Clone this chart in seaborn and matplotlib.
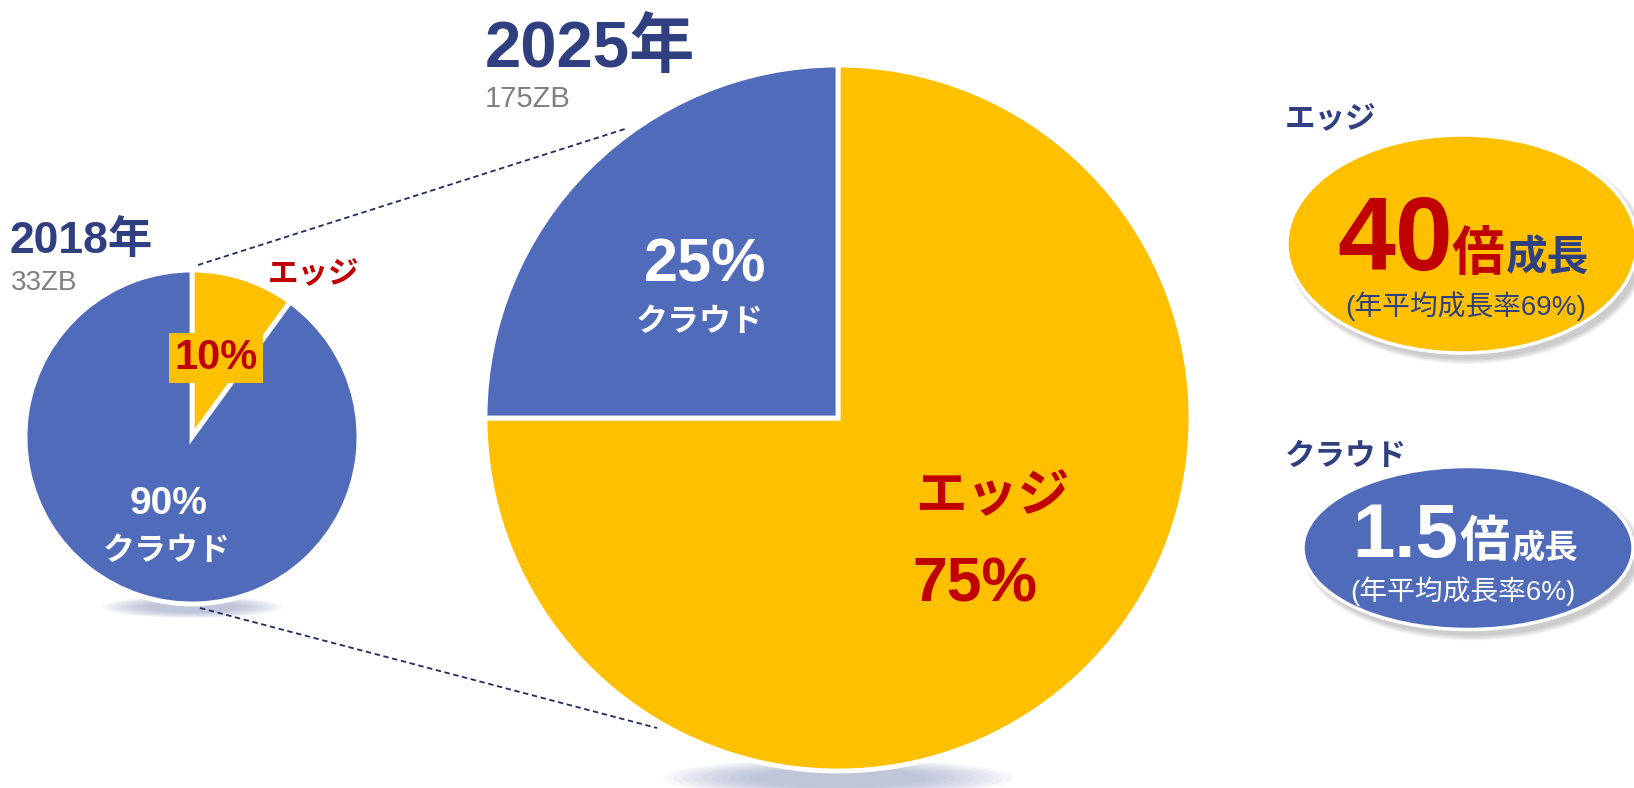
import matplotlib
matplotlib.use("Agg")
import matplotlib.pyplot as plt
import seaborn as sns
from matplotlib.patches import Ellipse

# data
years = ["2018年", "2025年"]
totals = ["33ZB", "175ZB"]
segments = ["エッジ", "クラウド"]
edge_share = [10, 75]
cloud_share = [90, 25]
growth_x = ["40", "1.5"]
growth_cagr = ["(年平均成長率69%)", "(年平均成長率6%)"]

sns.set_theme(style="white")
plt.rcParams["font.family"] = ["Liberation Sans", "Noto Sans CJK JP"]

yellow = "#FFC000"
blue = "#4F6BBA"
red = "#C00000"
navy = "#2F3F7F"
gray = "#7F7F7F"

W, H = 1634, 788
fig = plt.figure(figsize=(W / 100, H / 100), dpi=100)
ax = fig.add_axes([0, 0, 1, 1])


def Y(y):
    # measured from the top of the picture
    return H - y


def soft_shadow(cx, cy, w, h, color, n=10, alpha=0.07, z=0):
    for i in range(n):
        s = 1 - 0.55 * i / n
        ax.add_patch(Ellipse((cx, cy), w * s, h * s, color=color,
                             alpha=alpha, lw=0, zorder=z))


# shadows under the pies
soft_shadow(192, Y(607), 180, 22, "#8C95BF")
soft_shadow(838, Y(778), 350, 38, "#8C95BF")

# connector lines
ax.plot([198, 628], [Y(265), Y(128)], ls=(0, (3, 2)), lw=1.3,
        color="#1F2D5A", zorder=1)
ax.plot([200, 657], [Y(608), Y(728)], ls=(0, (3, 2)), lw=1.3,
        color="#1F2D5A", zorder=1)

# pies
wp = dict(edgecolor="white", linewidth=3.5, zorder=2)
ax.pie([edge_share[0], cloud_share[0]], colors=[yellow, blue], startangle=90,
       counterclock=False, center=(192, Y(437)), radius=167, wedgeprops=wp)
ax.pie([edge_share[1], cloud_share[1]], colors=[yellow, blue], startangle=90,
       counterclock=False, center=(838, Y(418)), radius=353, wedgeprops=wp)

ax.set_xlim(0, W)
ax.set_ylim(0, H)
ax.set_aspect("equal")
ax.axis("off")

# titles
ax.text(10, Y(253), years[0], fontsize=32, fontweight="bold", color=navy, va="baseline")
ax.text(11, Y(290), totals[0], fontsize=20, color=gray, va="baseline")
ax.text(485, Y(67), years[1], fontsize=47, fontweight="bold", color=navy, va="baseline")
ax.text(485, Y(107), totals[1], fontsize=21, color=gray, va="baseline")

# 2018 labels
ax.text(268, Y(275), segments[0], fontsize=22, fontweight="bold", color=red,
        va="center", zorder=5)
ax.text(216, Y(358), f"{edge_share[0]}%", fontsize=30, fontweight="bold", color=red,
        ha="center", va="center", zorder=5,
        bbox=dict(boxstyle="square,pad=0.12", fc=yellow, ec="none"))
ax.text(169, Y(504), f"{cloud_share[0]}%", fontsize=28, fontweight="bold",
        color="white", ha="center", va="center", zorder=5)
ax.text(167, Y(552), segments[1], fontsize=23, fontweight="bold",
        color="white", ha="center", va="center", zorder=5)

# 2025 labels
ax.text(705, Y(266), f"{cloud_share[1]}%", fontsize=44, fontweight="bold",
        color="white", ha="center", va="center", zorder=5)
ax.text(700, Y(323), segments[1], fontsize=23, fontweight="bold",
        color="white", ha="center", va="center", zorder=5)
ax.text(992, Y(498), segments[0], fontsize=37, fontweight="bold",
        color=red, ha="center", va="center", zorder=5)
ax.text(975, Y(585), f"{edge_share[1]}%", fontsize=45, fontweight="bold",
        color=red, ha="center", va="center", zorder=5)

# growth badges
ax.text(1285, Y(120), segments[0], fontsize=22, fontweight="bold", color=navy, va="center")
ax.text(1285, Y(457), segments[1], fontsize=22, fontweight="bold", color=navy, va="center")

badges = [(1462, Y(244), 350, 218, yellow), (1468, Y(548), 330, 163, blue)]
for cx, cy, w, h, c in badges:
    for k in range(6):
        ax.add_patch(Ellipse((cx + 5, cy - 6), w + 2 * k, h + 2 * k, color="#606060",
                             alpha=0.06, lw=0, zorder=2))
    ax.add_patch(Ellipse((cx, cy), w, h, fc=c, ec="white", lw=2.5, zorder=3))

ax.text(1337, Y(270), growth_x[0], fontsize=75, fontweight="bold", color=red,
        va="baseline", zorder=5)
ax.text(1451, Y(270), "倍", fontsize=38, fontweight="bold", color=red,
        va="baseline", zorder=5)
ax.text(1506, Y(270), "成長", fontsize=30, fontweight="bold", color=navy,
        va="baseline", zorder=5)
ax.text(1466, Y(306), growth_cagr[0], fontsize=20, color=navy,
        ha="center", va="center", zorder=5)

ax.text(1352, Y(557), growth_x[1], fontsize=55, fontweight="bold", color="white",
        va="baseline", zorder=5)
ax.text(1460, Y(557), "倍", fontsize=36, fontweight="bold", color="white",
        va="baseline", zorder=5)
ax.text(1511, Y(557), "成長", fontsize=24, fontweight="bold", color="white",
        va="baseline", zorder=5)
ax.text(1463, Y(591), growth_cagr[1], fontsize=20, color="white",
        ha="center", va="center", zorder=5)

fig.savefig("out.png", dpi=100)
